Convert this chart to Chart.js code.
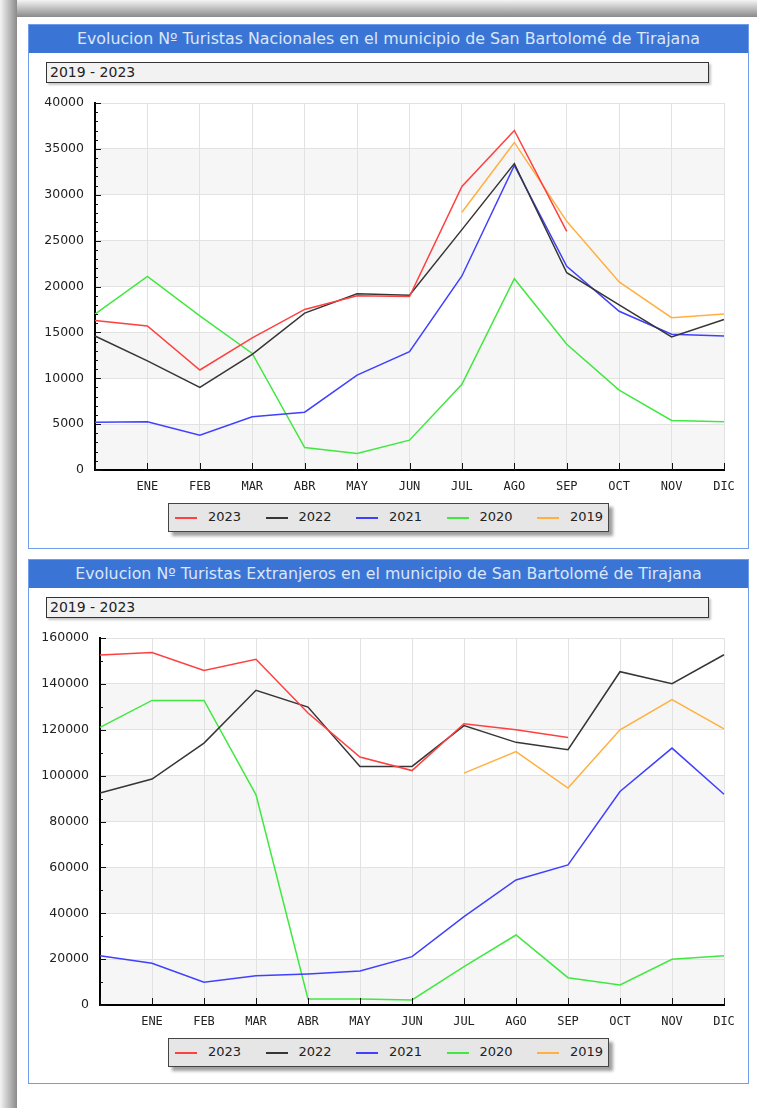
<!DOCTYPE html>
<html>
<head>
<meta charset="utf-8">
<script src="https://cdn.jsdelivr.net/npm/chart.js@4.4.1/dist/chart.umd.min.js"></script>
<style>
  body { margin: 0; width: 757px; height: 1108px; background: #fff; position: relative; overflow: hidden;
         font-family: "DejaVu Sans", Verdana, sans-serif; }
  .shade-top  { position: absolute; left: 0; top: 0; width: 757px; height: 17px; background: linear-gradient(#f4f4f4, #8a8a8a); }
  .shade-left { position: absolute; left: 0; top: 0; width: 17px; height: 1108px; background: linear-gradient(90deg, #f4f4f4, #8a8a8a); }
  .panel { position: absolute; left: 28px; width: 719px; height: 523px; border: 1px solid #6f9de9; background: #fff; }
  .title { height: 28px; background: #3a75d6; color: #dce6f7; font-size: 15.8px; line-height: 28px; text-align: center; white-space: nowrap; }
  .range { position: absolute; left: 17px; top: 37px; width: 658px; height: 19px; background: #f2f2f2;
           border: 1px solid #333; box-shadow: 2px 2px 2px #c8c8c8; font-size: 14px; line-height: 19px;
           padding-left: 3px; color: #222; }
  .chart-box { position: absolute; left: 0; top: 65px; width: 718px; height: 410px; }
  .legend { position: absolute; left: 139px; top: 478px; width: 439px; height: 27px; background: #e6e6e6;
            border: 1px solid #444; box-shadow: 4px 4px 3px #a0a0a0; }
  .legend .sw { position: absolute; top: 13px; width: 22px; height: 2px; }
  .legend .lb { position: absolute; top: 5px; font-size: 13px; line-height: 16px; color: #222; }
</style>
</head>
<body>
<div class="shade-top"></div>
<div class="shade-left"></div>

<div class="panel" style="top:24px">
  <div class="title">Evolucion Nº Turistas Nacionales en el municipio de San Bartolomé de Tirajana</div>
  <div class="range">2019 - 2023</div>
  <div class="chart-box"><canvas id="chart-nac" width="718" height="410"></canvas></div>
  <div class="legend" id="legend-nac"></div>
</div>

<div class="panel" style="top:559px">
  <div class="title">Evolucion Nº Turistas Extranjeros en el municipio de San Bartolomé de Tirajana</div>
  <div class="range">2019 - 2023</div>
  <div class="chart-box"><canvas id="chart-ext" width="718" height="410"></canvas></div>
  <div class="legend" id="legend-ext"></div>
</div>

<script>
"use strict";

// ── Data ──
const months = ["", "ENE", "FEB", "MAR", "ABR", "MAY", "JUN", "JUL", "AGO", "SEP", "OCT", "NOV", "DIC"];
const years  = ["2023", "2022", "2021", "2020", "2019"];
const colors = ["#ff4040", "#363636", "#4040ff", "#40e840", "#ffb040"];

// Turistas nacionales
const nac2023 = [16300, 15700, 10900, 14400, 17500, 19000, 18900, 30900, 37000, 26000, null, null, null];
const nac2022 = [14600, 11900, 9000, 12600, 17100, 19200, 19050, 26200, 33400, 21500, 18000, 14500, 16400];
const nac2021 = [5200, 5250, 3800, 5800, 6300, 10350, 12900, 21150, 33200, 22200, 17300, 14800, 14600];
const nac2020 = [17000, 21100, 16800, 12700, 2450, 1800, 3250, 9350, 20850, 13700, 8700, 5400, 5250];
const nac2019 = [null, null, null, null, null, null, null, 28100, 35700, 27100, 20500, 16600, 17000];
const nacTicks = { max: 40000, step: 5000, minor: 1000 };

// Turistas extranjeros
const ext2023 = [152600, 153700, 145800, 150700, 127300, 108100, 102200, 122600, 120000, 116600, null, null, null];
const ext2022 = [92400, 98500, 114200, 137200, 129900, 104000, 104000, 121800, 114500, 111300, 145300, 140100, 152700];
const ext2021 = [21500, 18200, 9900, 12700, 13500, 14800, 21100, 38500, 54500, 61100, 93100, 112000, 91900];
const ext2020 = [121000, 132800, 132800, 91600, 2600, 2600, 2200, 16700, 30500, 11900, 8700, 19900, 21500];
const ext2019 = [null, null, null, null, null, null, null, 101100, 110500, 94600, 120000, 133100, 120400];
const extTicks = { max: 160000, step: 20000, minor: 10000 };

// ── Plugins ──
const bandsPlugin = {
  id: "bands",
  beforeDraw(chart) {
    const { ctx, chartArea: a, scales: { y } } = chart;
    ctx.save();
    ctx.fillStyle = "#ffffff";
    ctx.fillRect(a.left, a.top, a.width, a.height);
    ctx.fillStyle = "#f6f6f6";
    const t = y.ticks;
    for (let i = 0; i < t.length - 1; i += 2) {
      const top = y.getPixelForValue(t[i + 1].value);
      const bot = y.getPixelForValue(t[i].value);
      ctx.fillRect(a.left, top, a.width, bot - top);
    }
    ctx.restore();
  }
};

const innerTicksPlugin = {
  id: "innerTicks",
  afterDatasetsDraw(chart, args, opts) {
    const { ctx, chartArea: a, scales: { x, y } } = chart;
    ctx.save();
    ctx.strokeStyle = "#111";
    ctx.lineWidth = 1;
    ctx.beginPath();
    for (let v = 0; v <= y.max; v += opts.minor) {
      const py = Math.round(y.getPixelForValue(v)) + 0.5;
      const len = v % opts.step === 0 ? 6 : 3;
      ctx.moveTo(a.left, py);
      ctx.lineTo(a.left + len, py);
    }
    x.ticks.forEach((t, i) => {
      const px = Math.round(x.getPixelForTick(i)) + 0.5;
      ctx.moveTo(px, a.bottom);
      ctx.lineTo(px, a.bottom - 7);
    });
    ctx.stroke();
    ctx.restore();
  }
};

// ── Build ──
function buildLegend(id) {
  const el = document.getElementById(id);
  el.innerHTML = years.map((yr, i) => {
    const left = 6 + i * 90.5;
    return `<div class="sw" style="left:${left}px;background:${colors[i]}"></div>` +
           `<div class="lb" style="left:${left + 33}px">${yr}</div>`;
  }).join("");
}

function buildChart(id, series, ticks, axisWidth) {
  const ctx = document.getElementById(id).getContext("2d");
  return new Chart(ctx, {
    type: "line",
    data: {
      labels: months,
      datasets: series.map((data, i) => ({
        label: years[i],
        data,
        borderColor: colors[i],
        borderWidth: 1.5,
        pointRadius: 0,
        tension: 0,
        spanGaps: false,
      })),
    },
    options: {
      responsive: false,
      animation: false,
      devicePixelRatio: 1,
      layout: { padding: { top: 13, right: 23, left: 0, bottom: 0 } },
      plugins: {
        legend: { display: false },
        tooltip: { enabled: false },
        innerTicks: ticks,
      },
      scales: {
        x: {
          offset: false,
          grid: { color: "#e2e2e2", drawTicks: false },
          border: { color: "#000", width: 2 },
          ticks: {
            autoSkip: false, maxRotation: 0, padding: 10, color: "#222",
            font: { family: "'DejaVu Sans Mono', monospace", size: 12 },
          },
          afterFit: s => { s.height = 30; s.paddingLeft = 0; s.paddingRight = 0; },
        },
        y: {
          min: 0, max: ticks.max,
          grid: { color: "#e2e2e2", drawTicks: false },
          border: { color: "#000", width: 2 },
          ticks: {
            stepSize: ticks.step, padding: 11, color: "#222",
            font: { family: "'DejaVu Sans', sans-serif", size: 12.5 },
            callback: v => String(v),
          },
          afterFit: s => { s.width = axisWidth; s.paddingTop = 0; s.paddingBottom = 0; },
        },
      },
    },
    plugins: [bandsPlugin, innerTicksPlugin],
  });
}

buildChart("chart-nac", [nac2023, nac2022, nac2021, nac2020, nac2019], nacTicks, 66);
buildChart("chart-ext", [ext2023, ext2022, ext2021, ext2020, ext2019], extTicks, 71);
buildLegend("legend-nac");
buildLegend("legend-ext");
</script>
</body>
</html>
